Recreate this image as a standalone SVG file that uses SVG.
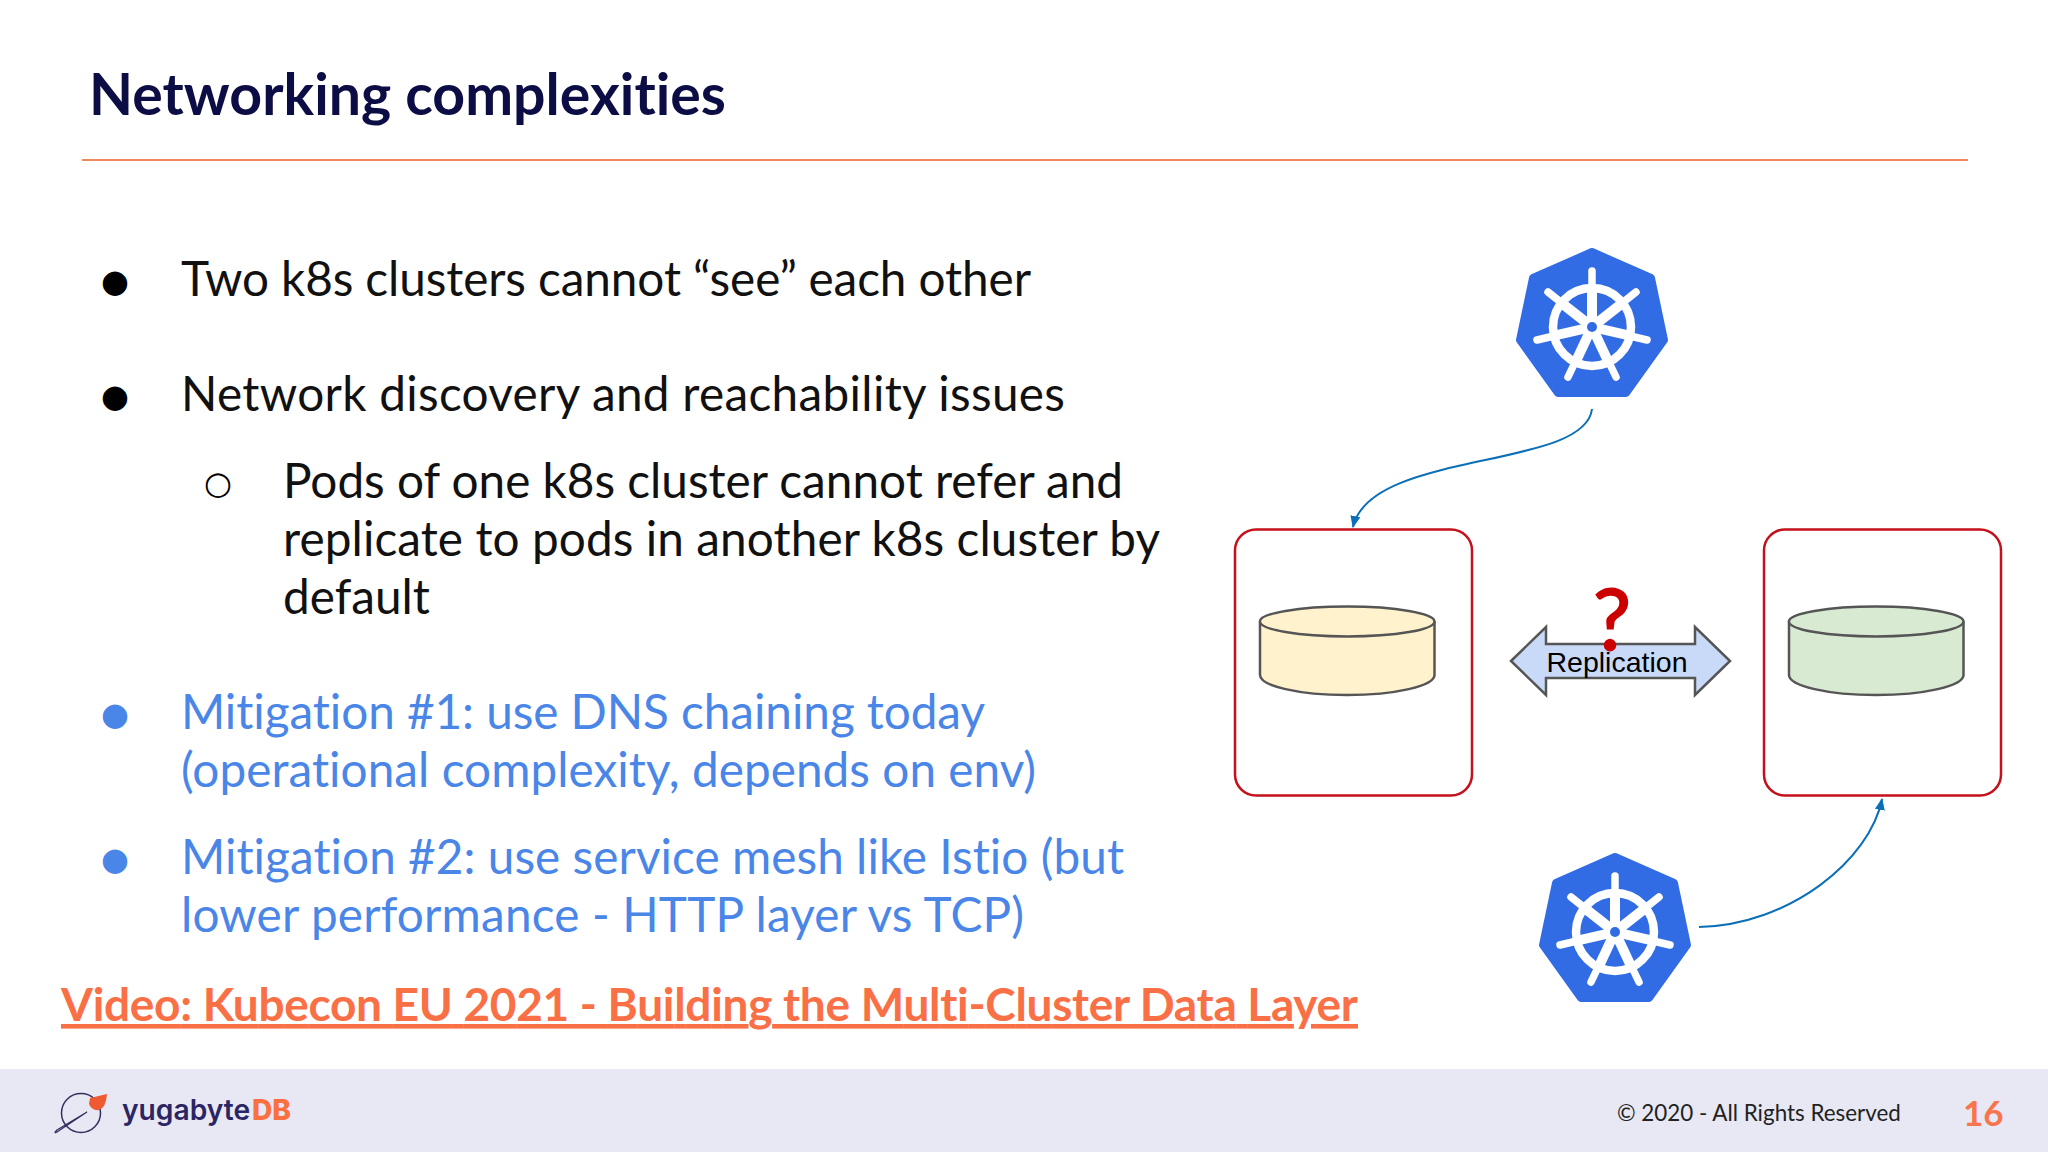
<svg xmlns="http://www.w3.org/2000/svg" width="2048" height="1152" viewBox="0 0 2048 1152">
<style>
text{font-variant-ligatures:none}
.b{font-family:Lato,"Liberation Sans",sans-serif;font-size:47.700px;fill:#111}
.m{fill:#4a86e8}
.d{font-family:"DejaVu Sans",sans-serif;font-size:32px;text-anchor:middle}
.box{fill:#fff;stroke:#c4111b;stroke-width:2.5}
.cyl{stroke:#555;stroke-width:2.5}
.c{fill:none;stroke:#0b6fb8;stroke-width:2}
</style>
<defs>
<marker id="a" markerWidth="14" markerHeight="14" refX="11" refY="5" orient="auto" markerUnits="userSpaceOnUse"><path d="M0 0L12 5L0 10z" fill="#0b6fb8"/></marker>
<g id="wheel">
<path d="M0-75L59-49L72 13L34 66L-34 66L-72 13L-59-49z" fill="#326ce5" stroke="#326ce5" stroke-width="8" stroke-linejoin="round"/>
<circle r="39" fill="none" stroke="#fff" stroke-width="8.500"/>
<g stroke="#fff" stroke-width="7.500" stroke-linecap="round">
<path d="M0 0V-56"/><path d="M0 0L44-35"/><path d="M0 0L55 13"/><path d="M0 0L24 50"/><path d="M0 0L-24 50"/><path d="M0 0L-55 13"/><path d="M0 0L-44-35"/>
</g>
<g stroke="#fff" stroke-width="10">
<path d="M0 0V-36"/><path d="M0 0L28-22"/><path d="M0 0L35 8"/><path d="M0 0L15 32"/><path d="M0 0L-15 32"/><path d="M0 0L-35 8"/><path d="M0 0L-28-22"/>
</g>
<circle r="11" fill="#fff"/><circle r="5" fill="#326ce5"/>
</g>
</defs>
<rect width="2048" height="1152" fill="#fff"/>
<g id="header">
<text x="89" y="115" font-family="Lato,sans-serif" font-size="57.200" font-weight="700" fill="#0d0d45" textLength="637">Networking complexities</text>
<path d="M82 160H1968" stroke="#f0885f" stroke-width="2"/>
</g>
<g id="bullets">
<text class="d" x="115" y="292">●</text><text class="b" x="181" y="296" textLength="850">Two k8s clusters cannot “see” each other</text>
<text class="d" x="115" y="407">●</text><text class="b" x="181" y="411" textLength="884">Network discovery and reachability issues</text>
<text class="d" x="218" y="494">○</text>
<text class="b" x="283" y="498" textLength="840">Pods of one k8s cluster cannot refer and</text>
<text class="b" x="283" y="556" textLength="877">replicate to pods in another k8s cluster by</text>
<text class="b" x="283" y="614">default</text>
<text class="d m" x="115" y="725">●</text>
<text class="b m" x="181" y="729" textLength="804">Mitigation #1: use DNS chaining today</text>
<text class="b m" x="181" y="787" textLength="855">(operational complexity, depends on env)</text>
<text class="d m" x="115" y="870">●</text>
<text class="b m" x="181" y="874" textLength="943">Mitigation #2: use service mesh like Istio (but</text>
<text class="b m" x="181" y="932" textLength="843">lower performance - HTTP layer vs TCP)</text>
<text x="61" y="1021" font-family="Lato,sans-serif" font-size="46" font-weight="700" fill="#fa7046" text-decoration="underline" textLength="1297">Video: Kubecon EU 2021 - Building the Multi-Cluster Data Layer</text>
</g>
<g id="k8s-top"><use href="#wheel" x="1592" y="327"/></g>
<g id="k8s-bottom"><use href="#wheel" x="1615" y="932"/></g>
<g id="cluster-left"><rect class="box" x="1235" y="529.500" width="237" height="266" rx="21"/>
<path class="cyl" fill="#fff2cc" d="M1260 621.500V675C1260 686 1299 695 1347 695S1434.500 686 1434.500 675V621.500"/>
<ellipse class="cyl" fill="#fff2cc" cx="1347.200" cy="621.500" rx="87.300" ry="15"/></g>
<g id="cluster-right"><rect class="box" x="1764" y="529.500" width="237" height="266" rx="21"/>
<path class="cyl" fill="#d9ead3" d="M1789 621.500V675C1789 686 1828 695 1876 695S1963.500 686 1963.500 675V621.500"/>
<ellipse class="cyl" fill="#d9ead3" cx="1876.200" cy="621.500" rx="87.300" ry="15"/></g>
<g id="replication">
<path d="M1511 661L1546 627V644H1695V627L1730 661L1695 695V678H1546V695z" fill="#c9daf8" stroke="#555" stroke-width="2.500"/>
<text x="1617" y="672" font-family="Liberation Sans,sans-serif" font-size="28.500" text-anchor="middle" fill="#000">Replication</text>
<text x="1612" y="650" font-family="Lato,sans-serif" font-size="85" font-weight="400" text-anchor="middle" fill="#cc0000" stroke="#cc0000" stroke-width="1.800">?</text>
</g>
<g id="connectors">
<path class="c" d="M1592 409C1585 470 1370 450 1353 527" marker-end="url(#a)"/>
<path class="c" d="M1699 927C1790 925 1870 860 1882 799" marker-end="url(#a)"/>
</g>
<g id="footer">
<rect y="1069" width="2048" height="83" fill="#e8e8f4"/>
<circle cx="81" cy="1113" r="19.500" fill="none" stroke="#33305f" stroke-width="1.500"/>
<path d="M87 1112L57 1130Q53 1134 57 1132L87 1112" fill="none" stroke="#33305f" stroke-width="1.200"/>
<path d="M90 1098L107 1094Q106 1108 99 1110Q92 1111 89 1104z" fill="#ee5a32"/>
<text x="122" y="1120" font-family="Inter,sans-serif" font-size="28.200" font-weight="600" fill="#2b2663">yugabyte</text>
<text x="252" y="1120" font-family="Inter,sans-serif" font-size="28.200" font-weight="800" fill="#fa7040">DB</text>
<text x="1617" y="1121" font-family="Lato,sans-serif" font-size="22.400" fill="#222">© 2020 - All Rights Reserved</text>
<text x="1963" y="1126" font-family="Lato,sans-serif" font-size="35" font-weight="700" fill="#f9744a">16</text>
</g>
</svg>
